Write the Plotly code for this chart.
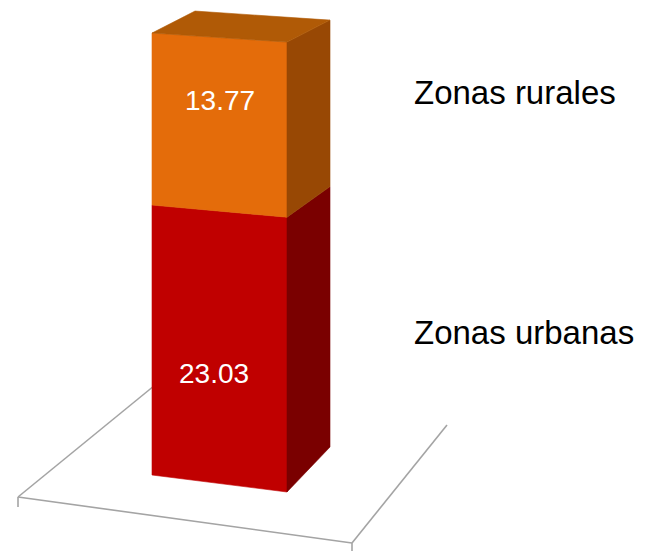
import plotly.graph_objects as go

# ---- data ----
categories = ["Zonas urbanas", "Zonas rurales"]
values = [23.03, 13.77]

# ---- styles ----
front_colors = ["#C00000", "#E46C0A"]
side_colors = ["#7A0000", "#984804"]
top_color = "#B05A06"
label_pos_frac = [0.41, 0.64]     # where the value label sits inside each segment
label_u = [0.46, 0.50]
legend_y_px = [332, 92]

# simple pseudo-3D projection (pixel space)
FL = (152.0, 475.0)   # front-left base
FR = (287.0, 492.0)   # front-right base
DX = 43.0


def height(v, u):
    h = 11.24 * v + 0.0209 * v * v
    return h * (1.0 + 0.018 * u)


def proj(u, d, v):
    bx = FL[0] + (FR[0] - FL[0]) * u
    by = FL[1] + (FR[1] - FL[1]) * u
    y = by - height(v, u)
    x = bx + DX * d
    y = y + d * (-45.0 + 0.625 * v)
    return x, y


fig = go.Figure()

# floor
floor_col = "#A4A4A4"
floor_lines = [((18, 497), (160, 381)), ((18, 497), (352, 543)), ((352, 543), (447, 425)),
               ((18, 497), (18, 507)), ((352, 543), (352, 551))]
for (x0, y0), (x1, y1) in floor_lines:
    fig.add_shape(type="line", x0=x0, y0=y0, x1=x1, y1=y1, xref="x", yref="y",
                  line=dict(color=floor_col, width=1.6), layer="below")


def poly(pts, color):
    xs = [p[0] for p in pts] + [pts[0][0]]
    ys = [p[1] for p in pts] + [pts[0][1]]
    fig.add_trace(go.Scatter(x=xs, y=ys, mode="lines", fill="toself", fillcolor=color,
                             line=dict(color=color, width=0.6), hoverinfo="skip",
                             showlegend=False))


base = 0.0
for i, (cat, val) in enumerate(zip(categories, values)):
    top = base + val
    # front face
    poly([proj(0, 0, base), proj(1, 0, base), proj(1, 0, top), proj(0, 0, top)], front_colors[i])
    # side face
    poly([proj(1, 0, base), proj(1, 1, base), proj(1, 1, top), proj(1, 0, top)], side_colors[i])
    if i == len(values) - 1:
        poly([proj(0, 0, top), proj(1, 0, top), proj(1, 1, top), proj(0, 1, top)], top_color)
    # value label
    lx, ly = proj(label_u[i], 0, base + val * label_pos_frac[i])
    fig.add_annotation(x=lx, y=ly, xref="x", yref="y", text=f"{val:.2f}", showarrow=False,
                       font=dict(family="Liberation Sans, Arial", size=28, color="white"),
                       xanchor="center", yanchor="middle")
    # category label
    fig.add_annotation(x=412, y=legend_y_px[i], xref="x", yref="y", text=cat, showarrow=False,
                       font=dict(family="Liberation Sans, Arial", size=33, color="black"),
                       xanchor="left", yanchor="middle")
    base = top

fig.update_layout(
    width=650, height=551,
    margin=dict(l=0, r=0, t=0, b=0),
    paper_bgcolor="white", plot_bgcolor="white",
    xaxis=dict(range=[0, 650], visible=False, fixedrange=True),
    yaxis=dict(range=[551, 0], visible=False, fixedrange=True),
    showlegend=False,
)

fig.write_html("out.html", config={"displayModeBar": False},
               post_script="document.body.style.margin='0';document.body.style.overflow='hidden';")
